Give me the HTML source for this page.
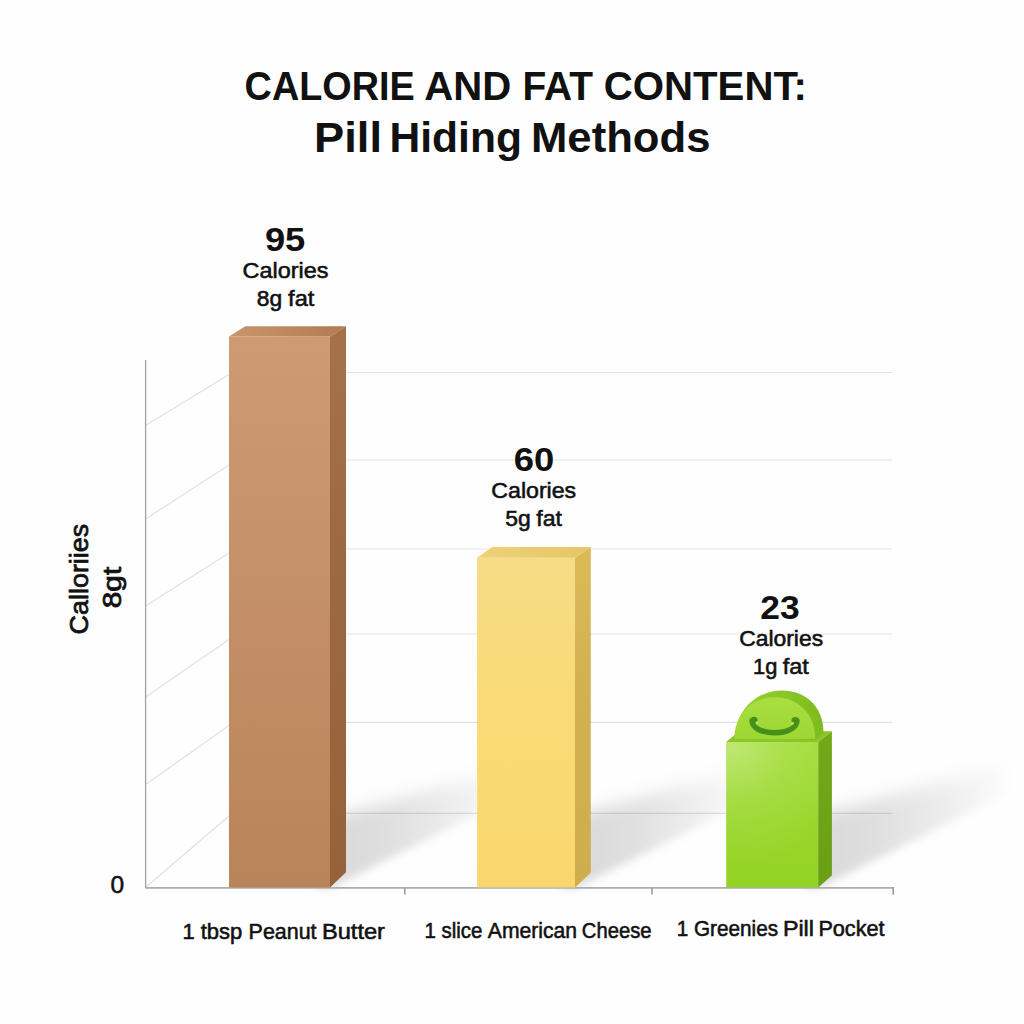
<!DOCTYPE html>
<html lang="en">
<head>
<meta charset="utf-8">
<title>Calorie and Fat Content: Pill Hiding Methods</title>
<style>
  html,body{margin:0;padding:0;background:#fefefe;}
  body{width:1024px;height:1024px;overflow:hidden;}
  svg{display:block;}
  text{font-family:"Liberation Sans",sans-serif;fill:#111;}
  .t1{font-weight:700;}
  .md{stroke:#111;stroke-width:.55px;}
  .yl{stroke:#111;stroke-width:.75px;}
</style>
</head>
<body>
<svg width="1024" height="1024" viewBox="0 0 1024 1024">
  <defs>
    <linearGradient id="brF" x1="0" y1="0" x2="0" y2="1"><stop offset="0" stop-color="#cd9a72"/><stop offset="1" stop-color="#ba845a"/></linearGradient>
    <linearGradient id="brS" x1="0" y1="0" x2="0" y2="1"><stop offset="0" stop-color="#a6724a"/><stop offset=".4" stop-color="#9c6940"/><stop offset="1" stop-color="#96623b"/></linearGradient>
    <linearGradient id="brT" x1="0" y1="0" x2="1" y2="0"><stop offset="0" stop-color="#c9966c"/><stop offset="1" stop-color="#b07b50"/></linearGradient>
    <linearGradient id="yeF" x1="0" y1="0" x2="0" y2="1"><stop offset="0" stop-color="#f6dc86"/><stop offset=".5" stop-color="#fada74"/><stop offset="1" stop-color="#f8d86e"/></linearGradient>
    <linearGradient id="yeS" x1="0" y1="0" x2="0" y2="1"><stop offset="0" stop-color="#dcba58"/><stop offset=".4" stop-color="#d3b151"/><stop offset="1" stop-color="#cfac4c"/></linearGradient>
    <linearGradient id="yeT" x1="0" y1="0" x2="1" y2="0"><stop offset="0" stop-color="#eed178"/><stop offset="1" stop-color="#e5c666"/></linearGradient>
    <linearGradient id="grF" x1="0" y1="0" x2="0" y2="1"><stop offset="0" stop-color="#a2dd37"/><stop offset=".5" stop-color="#99d72b"/><stop offset="1" stop-color="#93d324"/></linearGradient>
    <linearGradient id="grS" x1="0" y1="0" x2="0" y2="1"><stop offset="0" stop-color="#72a91a"/><stop offset="1" stop-color="#6a9f14"/></linearGradient>
    <linearGradient id="grR" x1="0" y1="0" x2="1" y2="0"><stop offset="0" stop-color="#98d330"/><stop offset="1" stop-color="#7dbb1e"/></linearGradient>
    <linearGradient id="grD" x1="0" y1="0" x2="0" y2="1"><stop offset="0" stop-color="#a9df42"/><stop offset="1" stop-color="#9dd733"/></linearGradient>
    <radialGradient id="grH" gradientUnits="userSpaceOnUse" cx="732" cy="748" r="120"><stop offset="0" stop-color="#fff" stop-opacity=".3"/><stop offset=".45" stop-color="#fff" stop-opacity=".1"/><stop offset="1" stop-color="#fff" stop-opacity="0"/></radialGradient>
    <linearGradient id="sh1" gradientUnits="userSpaceOnUse" x1="346" y1="0" x2="516" y2="0"><stop offset="0" stop-color="#000" stop-opacity=".138"/><stop offset=".1" stop-color="#000" stop-opacity=".134"/><stop offset=".3" stop-color="#000" stop-opacity=".115"/><stop offset=".55" stop-color="#000" stop-opacity=".078"/><stop offset=".8" stop-color="#000" stop-opacity=".038"/><stop offset="1" stop-color="#000" stop-opacity="0"/></linearGradient>
    <linearGradient id="sh2" gradientUnits="userSpaceOnUse" x1="590.8" y1="0" x2="750.8" y2="0"><stop offset="0" stop-color="#000" stop-opacity=".138"/><stop offset=".1" stop-color="#000" stop-opacity=".134"/><stop offset=".3" stop-color="#000" stop-opacity=".115"/><stop offset=".55" stop-color="#000" stop-opacity=".078"/><stop offset=".8" stop-color="#000" stop-opacity=".038"/><stop offset="1" stop-color="#000" stop-opacity="0"/></linearGradient>
    <linearGradient id="sh3" gradientUnits="userSpaceOnUse" x1="832" y1="0" x2="1012" y2="0"><stop offset="0" stop-color="#000" stop-opacity=".138"/><stop offset=".1" stop-color="#000" stop-opacity=".134"/><stop offset=".3" stop-color="#000" stop-opacity=".115"/><stop offset=".55" stop-color="#000" stop-opacity=".078"/><stop offset=".8" stop-color="#000" stop-opacity=".038"/><stop offset="1" stop-color="#000" stop-opacity="0"/></linearGradient>
    <filter id="blur3" x="-10%" y="-10%" width="120%" height="120%"><feGaussianBlur stdDeviation="4.2"/></filter>
    <filter id="blur9m" filterUnits="userSpaceOnUse" x="0" y="600" width="1024" height="424"><feGaussianBlur stdDeviation="8.5"/></filter>
    <mask id="shm" maskUnits="userSpaceOnUse" x="0" y="600" width="1024" height="424">
      <g filter="url(#blur9m)" fill="#fff">
        <path d="M290 828L346 813L540 761V920H290Z"/>
        <path d="M545 826L590.8 811L785 759V920H545Z"/>
        <path d="M790 825L832 811L1024 761V920H790Z"/>
      </g>
    </mask>
  </defs>
  <rect width="1024" height="1024" fill="#fefefe"/>

  <!-- back wall gridlines -->
  <g stroke="#e1e1e1" stroke-width="1.15" fill="none">
    <path d="M229 372.5H892M229 460H892M229 549H892M229 634H892M229 722.3H892M229 813.3H892"/>
    <path d="M145.6 425.5L229 374.5M145.6 519L229 465M145.6 606L229 553M145.6 697L229 639.5M145.6 784.5L229 725.5M145.6 887.5L229 816"/>
  </g>

  <!-- floor shadows: crisp lower edge, soft upper edge via blurred mask -->
  <g mask="url(#shm)">
    <g filter="url(#blur3)">
      <path d="M315 888H331L520 792.5V720L315 770Z" fill="url(#sh1)"/>
      <path d="M560 888H576L765 792.5V720L560 770Z" fill="url(#sh2)"/>
      <path d="M805 888H819L1020 787V715L805 768Z" fill="url(#sh3)"/>
    </g>
  </g>

  <!-- axes -->
  <path d="M145.6 360V888" stroke="#9da1a9" stroke-width="1.3" fill="none"/>
  <path d="M145.3 887.9H893.9" stroke="#adadad" stroke-width="1.8" fill="none"/>
  <path d="M404.8 888V894.5M652 888V894.5M893.2 887V894.7" stroke="#979797" stroke-width="1.5" fill="none"/>

  <!-- bar 1 -->
  <path d="M229 336.5H330V887.5H229Z" fill="url(#brF)"/>
  <path d="M330 336.5L346 326.2V872.2L330 887.5Z" fill="url(#brS)"/>
  <path d="M229 336.5L245.3 326.2H346L330 336.5Z" fill="url(#brT)"/>

  <!-- bar 2 -->
  <path d="M477.1 557.7H575V887.5H477.1Z" fill="url(#yeF)"/>
  <path d="M575 557.7L590.8 547V872.8L575 887.5Z" fill="url(#yeS)"/>
  <path d="M477.1 557.7L492.3 547H590.8L575 557.7Z" fill="url(#yeT)"/>

  <!-- bar 3 -->
  <path d="M726.2 742L739 731.3H831.9L818.2 742Z" fill="#8ac727"/>
  <path d="M735.5 739C735.5 677.5 823.5 673.5 823.5 733L815.5 740Z" fill="url(#grR)"/>
  <path d="M734.4 738.9C734.4 683.5 815.2 683.5 815.2 738.9Z" fill="url(#grD)"/>
  <path d="M752 720.6C752.4 736.8 796.6 736.8 797 720.8" stroke="#47901a" stroke-width="5.4" fill="none" stroke-linecap="round"/>
  <circle cx="754" cy="720.4" r="3.7" fill="#47901a"/><circle cx="795.2" cy="720.8" r="3.7" fill="#47901a"/>
  <circle cx="757" cy="722.8" r="1.5" fill="#b4e55a"/><circle cx="792.4" cy="723.3" r="1.5" fill="#b4e55a"/>
  <path d="M726.2 742H818.2V887.5H726.2Z" fill="url(#grF)"/>
  <path d="M726.2 742H818.2V887.5H726.2Z" fill="url(#grH)"/>
  <path d="M818.2 742L831.9 731.3V875.4L818.2 887.5Z" fill="url(#grS)"/>

  <!-- labels -->
  <text class="t1" y="100.2" font-size="41.2"><tspan x="244.6" textLength="170.2" lengthAdjust="spacingAndGlyphs">CALORIE</tspan> <tspan x="424.2" textLength="87.0" lengthAdjust="spacingAndGlyphs">AND</tspan> <tspan x="522.4" textLength="70.6" lengthAdjust="spacingAndGlyphs">FAT</tspan> <tspan x="603.8" textLength="203.1" lengthAdjust="spacingAndGlyphs">CONTENT:</tspan></text>
  <text class="t1" y="152.0" font-size="43.3"><tspan x="314.1" textLength="67.9" lengthAdjust="spacingAndGlyphs">Pill</tspan> <tspan x="389.5" textLength="132.4" lengthAdjust="spacingAndGlyphs">Hiding</tspan> <tspan x="531.0" textLength="179.5" lengthAdjust="spacingAndGlyphs">Methods</tspan></text>
  <text class="t1" y="250.7" font-size="32.5"><tspan x="264.9" textLength="40.4" lengthAdjust="spacingAndGlyphs">95</tspan></text>
  <text class="md" y="278.3" font-size="21.6"><tspan x="242.6" textLength="85.8" lengthAdjust="spacingAndGlyphs">Calories</tspan></text>
  <text class="md" y="305.6" font-size="21.2"><tspan x="256.7" textLength="25.4" lengthAdjust="spacingAndGlyphs">8g</tspan> <tspan x="288.1" textLength="26.2" lengthAdjust="spacingAndGlyphs">fat</tspan></text>
  <text class="t1" y="471.0" font-size="32.5"><tspan x="513.8" textLength="40.5" lengthAdjust="spacingAndGlyphs">60</tspan></text>
  <text class="md" y="498.1" font-size="21.6"><tspan x="491.3" textLength="84.9" lengthAdjust="spacingAndGlyphs">Calories</tspan></text>
  <text class="md" y="526.2" font-size="21.2"><tspan x="505.2" textLength="25.5" lengthAdjust="spacingAndGlyphs">5g</tspan> <tspan x="536.3" textLength="25.7" lengthAdjust="spacingAndGlyphs">fat</tspan></text>
  <text class="t1" y="618.6" font-size="32.5"><tspan x="760.3" textLength="39.4" lengthAdjust="spacingAndGlyphs">23</tspan></text>
  <text class="md" y="646.2" font-size="21.6"><tspan x="739.2" textLength="83.9" lengthAdjust="spacingAndGlyphs">Calories</tspan></text>
  <text class="md" y="673.8" font-size="21.2"><tspan x="753.0" textLength="24.3" lengthAdjust="spacingAndGlyphs">1g</tspan> <tspan x="782.8" textLength="26.1" lengthAdjust="spacingAndGlyphs">fat</tspan></text>
  <text class="md" y="893.0" font-size="24.5"><tspan x="110.4">0</tspan></text>
  <text class="md" y="938.9" font-size="21.4"><tspan x="182.4" textLength="59.9" lengthAdjust="spacingAndGlyphs">1 tbsp</tspan> <tspan x="248.6" textLength="67.9" lengthAdjust="spacingAndGlyphs">Peanut</tspan> <tspan x="321.9" textLength="63.1" lengthAdjust="spacingAndGlyphs">Butter</tspan></text>
  <text class="md" y="938.4" font-size="21.4"><tspan x="424.4" textLength="57.9" lengthAdjust="spacingAndGlyphs">1 slice</tspan> <tspan x="487.8" textLength="89.3" lengthAdjust="spacingAndGlyphs">American</tspan> <tspan x="581.8" textLength="69.7" lengthAdjust="spacingAndGlyphs">Cheese</tspan></text>
  <text class="md" y="935.6" font-size="21.4"><tspan x="676.7" textLength="101.4" lengthAdjust="spacingAndGlyphs">1 Greenies</tspan> <tspan x="782.9" textLength="31.1" lengthAdjust="spacingAndGlyphs">Pill</tspan> <tspan x="818.4" textLength="66.2" lengthAdjust="spacingAndGlyphs">Pocket</tspan></text>

  <!-- y axis title -->
  <text class="yl" transform="translate(87.6 634.4) rotate(-90)" font-size="26.5" textLength="110.6" lengthAdjust="spacingAndGlyphs">Calloriies</text>
  <text class="yl" transform="translate(120.6 608.2) rotate(-90)" font-size="25" textLength="41.4" lengthAdjust="spacingAndGlyphs">8gt</text>
</svg>
</body>
</html>
